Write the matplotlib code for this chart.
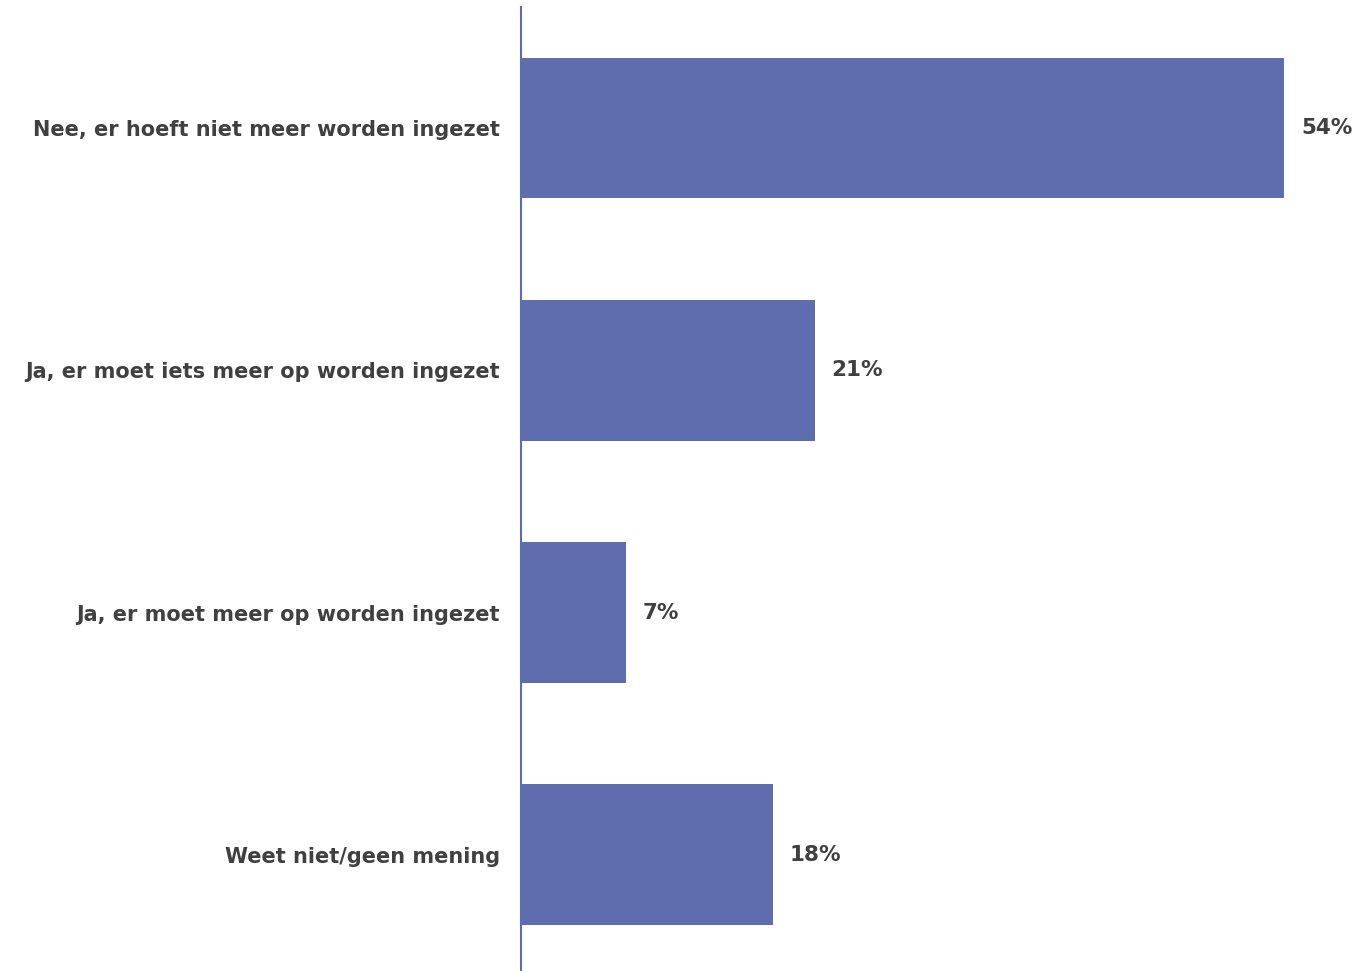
import matplotlib
matplotlib.use("Agg")
import matplotlib.pyplot as plt

categories = [
    "Nee, er hoeft niet meer worden ingezet",
    "Ja, er moet iets meer op worden ingezet",
    "Ja, er moet meer op worden ingezet",
    "Weet niet/geen mening",
]
values = [54.0, 20.8, 7.4, 17.8]
value_labels = ["54%", "21%", "7%", "18%"]

bar_color = "#5E6DAD"
text_color = "#404040"

fig = plt.figure(figsize=(13.62, 9.71), dpi=100)
ax = fig.add_axes([521 / 1362, 0, 1 - 521 / 1362, 1 - 7 / 971])

ypos = list(range(len(categories)))
ax.barh(ypos, values, height=0.58, color=bar_color)

for y, v, lab in zip(ypos, values, value_labels):
    ax.annotate(lab, (v, y), xytext=(12, 0), textcoords="offset points",
                va="center", ha="left", fontsize=15.5, fontweight="bold",
                color=text_color)

ax.set_xlim(0, 59.5)
ax.set_ylim(3.48, -0.5)
ax.set_yticks(ypos)
ax.set_yticklabels(categories, fontsize=15, fontweight="bold", color=text_color)
ax.tick_params(axis="y", length=0, pad=15)
ax.set_xticks([])

for s in ["top", "right", "bottom"]:
    ax.spines[s].set_visible(False)
ax.spines["left"].set_color(bar_color)
ax.spines["left"].set_linewidth(1.5)

fig.savefig("out.png", dpi=100)
